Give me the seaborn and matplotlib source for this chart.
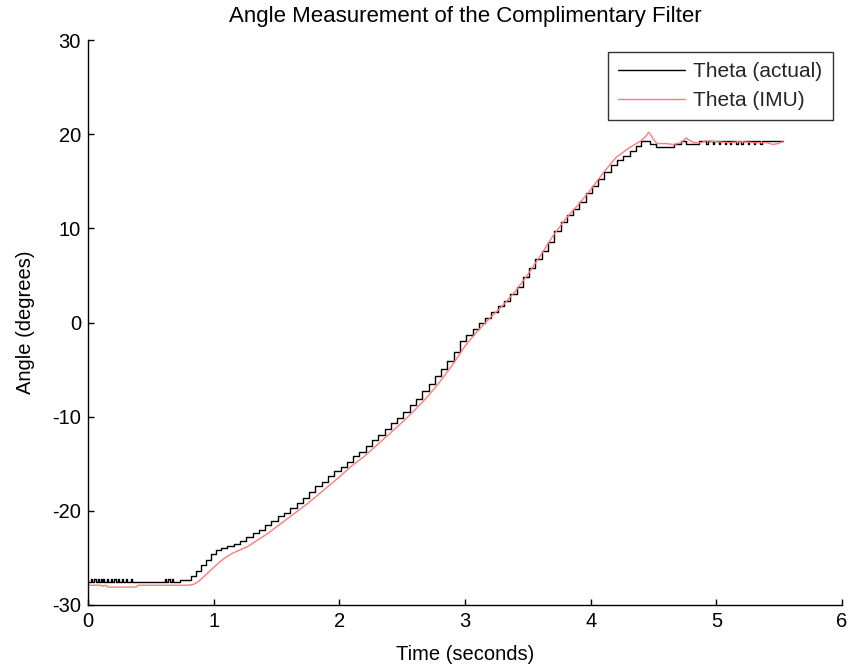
import matplotlib
matplotlib.use("Agg")
import matplotlib.pyplot as plt
import seaborn as sns
import pandas as pd

# ---- data ----
t_actual = [0.00, 0.02, 0.03, 0.05, 0.06, 0.08, 0.09, 0.10, 0.11, 0.12, 0.13, 0.15, 0.16,
            0.18, 0.19, 0.21, 0.22, 0.24, 0.25, 0.27, 0.28, 0.30, 0.31, 0.34, 0.35, 0.37,
            0.61, 0.62, 0.64, 0.65, 0.67, 0.68, 0.73,
            0.78, 0.82, 0.86, 0.90, 0.94, 0.98, 1.02, 1.06, 1.11, 1.16, 1.21, 1.26, 1.31,
            1.36, 1.41, 1.46, 1.51, 1.56, 1.61, 1.66, 1.71, 1.76, 1.81, 1.86, 1.91, 1.96,
            2.01, 2.06, 2.11, 2.16, 2.21, 2.26, 2.31, 2.36, 2.41, 2.46, 2.51, 2.56, 2.61,
            2.66, 2.71, 2.76, 2.81, 2.86, 2.91, 2.96, 3.01, 3.06, 3.11, 3.16, 3.21, 3.26,
            3.31, 3.36, 3.41, 3.46, 3.51, 3.56, 3.61, 3.66, 3.71, 3.76, 3.81, 3.86, 3.91,
            3.96, 4.01, 4.06, 4.11, 4.16, 4.21, 4.26, 4.31, 4.36, 4.40, 4.47, 4.52, 4.66,
            4.72, 4.76, 4.86, 4.92, 4.93, 4.97, 4.98, 5.02, 5.03, 5.07, 5.08, 5.11, 5.12,
            5.16, 5.17, 5.20, 5.21, 5.25, 5.26, 5.30, 5.31, 5.35, 5.36, 5.53]
theta_actual = [-27.6, -27.2, -27.6, -27.2, -27.6, -27.2, -27.6, -27.2, -27.6, -27.2, -27.6,
                -27.2, -27.6, -27.2, -27.6, -27.2, -27.6, -27.2, -27.6, -27.2, -27.6, -27.2,
                -27.6, -27.2, -27.6, -27.6,
                -27.2, -27.6, -27.2, -27.6, -27.2, -27.6, -27.3,
                -27.3, -26.9, -26.4, -25.8, -25.2, -24.6, -24.2, -23.9, -23.7, -23.5, -23.2,
                -22.8, -22.4, -22.0, -21.5, -21.1, -20.6, -20.2, -19.7, -19.2, -18.6, -18.0,
                -17.4, -16.9, -16.3, -15.8, -15.3, -14.8, -14.2, -13.7, -13.1, -12.5, -11.9,
                -11.3, -10.7, -10.1, -9.5, -8.8, -8.1, -7.3, -6.5, -5.7, -4.9, -4.1, -3.1,
                -2.0, -1.3, -0.7, -0.1, 0.5, 1.1, 1.7, 2.3, 3.0, 3.8, 4.8, 5.8, 6.7, 7.6,
                8.6, 9.7, 10.7, 11.4, 12.1, 12.8, 13.7, 14.5, 15.2, 16.0, 16.7, 17.3, 17.7,
                18.2, 18.7, 19.3, 19.0, 18.65, 19.0, 19.3, 19.0, 19.3, 19.0, 19.3, 19.0,
                19.3, 19.0, 19.3, 19.0, 19.3, 19.0, 19.3, 19.0, 19.3, 19.0, 19.3, 19.0, 19.3,
                19.0, 19.3, 19.0, 19.3, 19.3]

t_imu = [0.00, 0.10, 0.12, 0.14, 0.16, 0.20, 0.30, 0.38, 0.40, 0.60, 0.80, 0.84, 0.88,
         0.92, 0.96, 1.00, 1.05, 1.10, 1.15, 1.20, 1.27, 1.35, 1.43, 1.51, 1.59, 1.67,
         1.75, 1.83, 1.91, 2.00, 2.10, 2.20, 2.30, 2.40, 2.50, 2.60, 2.70, 2.80, 2.90,
         3.00, 3.10, 3.20, 3.30, 3.40, 3.50, 3.60, 3.70, 3.80, 3.90, 4.00, 4.10, 4.20,
         4.30, 4.40, 4.44, 4.46, 4.48, 4.50, 4.53, 4.60, 4.66, 4.72, 4.76, 4.78, 4.82,
         4.88, 4.92, 5.00, 5.10, 5.20, 5.30, 5.40, 5.45, 5.49, 5.53]
theta_imu = [-27.9, -27.9, -28.0, -27.9, -28.1, -28.1, -28.1, -28.1, -27.9, -27.9, -27.9,
             -27.8, -27.5, -27.0, -26.5, -26.0, -25.4, -24.9, -24.5, -24.2, -23.8, -23.1,
             -22.4, -21.6, -20.8, -20.0, -19.2, -18.3, -17.4, -16.4, -15.2, -14.2, -13.0,
             -11.8, -10.6, -9.3, -7.9, -6.3, -4.5, -2.5, -0.9, 0.5, 1.8, 3.3, 5.1, 7.1,
             9.2, 11.0, 12.5, 14.1, 15.9, 17.5, 18.5, 19.3, 19.8, 20.2, 19.9, 19.4, 19.0,
             19.0, 18.9, 19.1, 19.6, 19.4, 19.1, 19.1, 19.3, 19.2, 19.1, 19.2, 19.1, 19.1,
             18.9, 19.0, 19.2]

x_ticks = [0, 1, 2, 3, 4, 5, 6]
y_ticks = [-30, -20, -10, 0, 10, 20, 30]

title = "Angle Measurement of the Complimentary Filter"
x_label = "Time (seconds)"
y_label = "Angle (degrees)"
label_actual = "Theta (actual)"
label_imu = "Theta (IMU)"

# ---- plotting ----
sns.set_theme(style="white")
plt.rcParams["font.family"] = ["Liberation Sans", "DejaVu Sans"]

fig = plt.figure(figsize=(8.48, 6.68), dpi=100)
ax = fig.add_axes([88 / 848, 1 - 605 / 668, (842 - 88) / 848, (605 - 40) / 668])

df_a = pd.DataFrame({"t": t_actual, "theta": theta_actual})
df_i = pd.DataFrame({"t": t_imu, "theta": theta_imu})

sns.lineplot(data=df_a, x="t", y="theta", ax=ax, color="black", linewidth=1.0,
             drawstyle="steps-post", estimator=None, sort=False, label=label_actual)
sns.lineplot(data=df_i, x="t", y="theta", ax=ax, color="#ff7b7b", linewidth=1.0,
             estimator=None, sort=False, label=label_imu)

ax.set_xlim(0, 6)
ax.set_ylim(-30, 30)
ax.set_xticks(x_ticks)
ax.set_yticks(y_ticks)
ax.set_xticklabels([str(v) for v in x_ticks])
ax.set_yticklabels([str(v) for v in y_ticks])

for s in ["top", "right"]:
    ax.spines[s].set_visible(False)
for s in ["left", "bottom"]:
    ax.spines[s].set_color("black")
    ax.spines[s].set_linewidth(1.0)

ax.tick_params(axis="both", direction="in", length=4, width=1, colors="black",
               labelsize=14.5, pad=5, left=True, bottom=True)

ax.set_title(title, fontsize=16, color="black", pad=13)
ax.set_xlabel(x_label, fontsize=14.5, color="black", labelpad=10)
ax.set_ylabel(y_label, fontsize=14.5, color="black", labelpad=12)

leg = ax.legend(loc="upper right", bbox_to_anchor=((833 - 88) / 754, (605 - 52) / 565),
                fontsize=15, frameon=True, fancybox=False, handlelength=3.2,
                handletextpad=0.4, borderpad=0.5, labelspacing=0.45, borderaxespad=0)
leg.get_frame().set_edgecolor("black")
leg.get_frame().set_linewidth(1.0)

fig.savefig("out.png", dpi=100, facecolor="white")
